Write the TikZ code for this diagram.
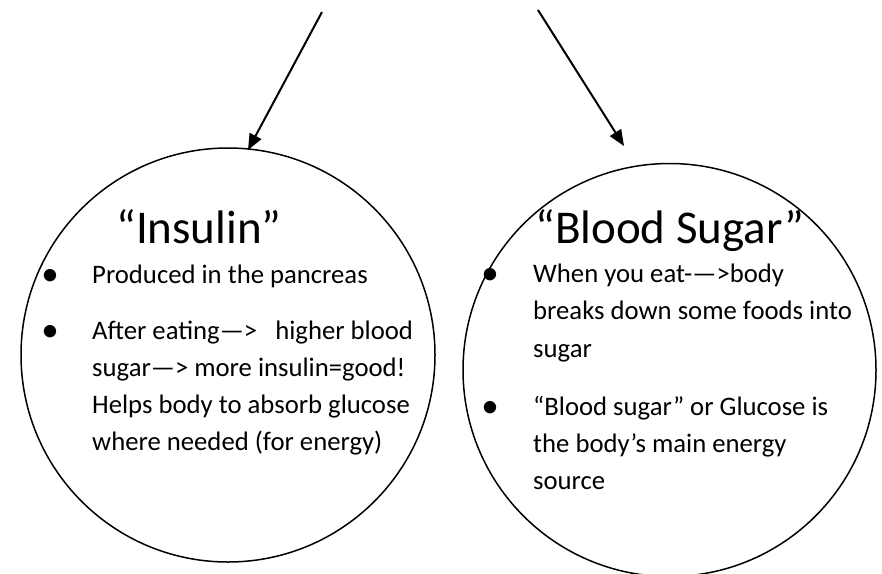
\documentclass[tikz,border=0pt]{standalone}
\usepackage{fontspec}
\setmainfont{Carlito}
\usetikzlibrary{arrows.meta}
\tikzset{
  bigcircle/.style={circle, draw=black, line width=1.5pt, inner sep=0pt},
  title/.style={anchor=base, font=\fontsize{47}{52}\selectfont, inner sep=0pt},
  body/.style={anchor=base west, font=\fontsize{26.7}{37}\selectfont, inner sep=0pt},
  bul/.style={anchor=center, font=\fontsize{35}{35}\selectfont, inner sep=0pt},
  conn/.style={line width=2pt, -{Triangle[length=16pt,width=13pt]}}
}
\begin{document}
\begin{tikzpicture}[x=1pt,y=-1pt]
\useasboundingbox (0,0) rectangle (882,573);
\node[bigcircle, minimum size=414pt] (L) at (228,355) {};
\node[bigcircle, minimum size=413pt] (R) at (669.5,370) {};
\coordinate (la) at (322,12);
\coordinate (lt) at (248,150);
\coordinate (ra) at (538,10);
\coordinate (rt) at (624,146);
\draw[conn] (la) -- (lt);
\draw[conn] (ra) -- (rt);
% left circle text
\node[title] (ltitle) at (199,243) {“Insulin”};
\node[bul] (lb1) at (50,277) {•};
\node[body] (l1) at (92,283) {Produced in the pancreas};
\node[bul] (lb2) at (50,333) {•};
\node[body] (l2) at (92,339) {After eating—>\ \ \ higher blood};
\node[body] (l3) at (92,376) {sugar—> more insulin=good!};
\node[body] (l4) at (92,413) {Helps body to absorb glucose};
\node[body] (l5) at (92,450) {where needed (for energy)};
% right circle text
\node[title] (rtitle) at (670,243) {“Blood Sugar”};
\node[bul] (rb1) at (490,276) {•};
\node[body] (r1) at (533,282) {When you eat-—>body};
\node[body] (r2) at (533,319) {breaks down some foods into};
\node[body] (r3) at (533,357) {sugar};
\node[bul] (rb2) at (490,409) {•};
\node[body] (r4) at (533,415) {“Blood sugar” or Glucose is};
\node[body] (r5) at (533,452) {the body’s main energy};
\node[body] (r6) at (533,489) {source};
\end{tikzpicture}
\end{document}
